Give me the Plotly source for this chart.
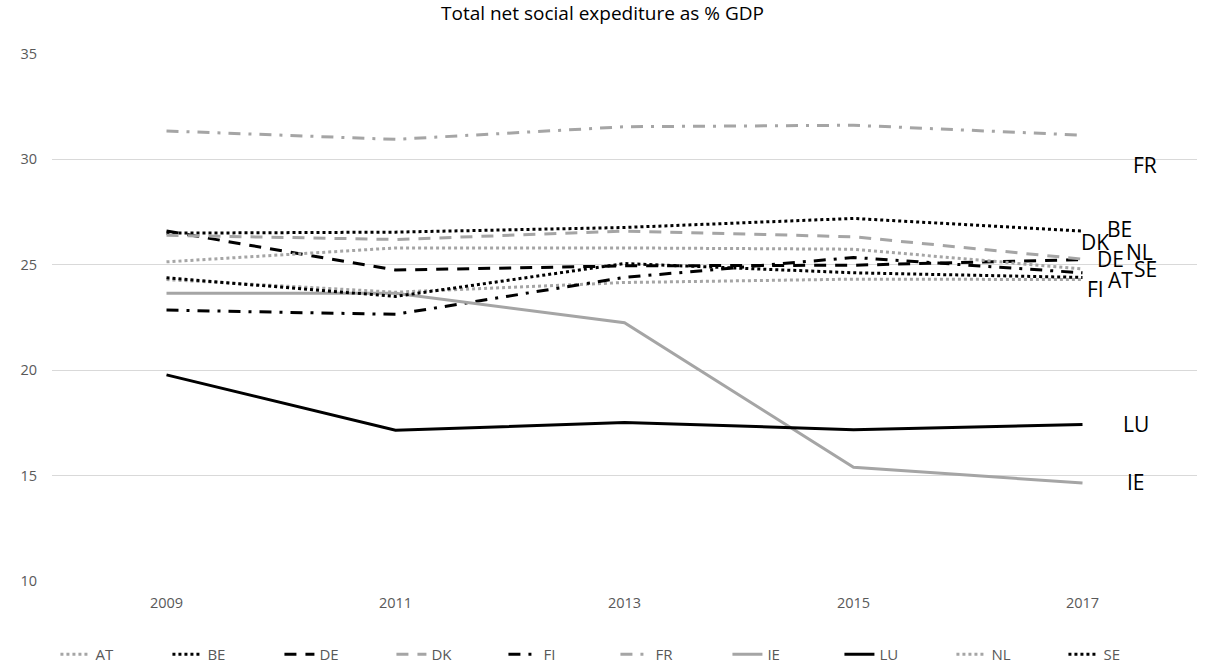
import plotly.graph_objects as go

# Net social expenditure, % of GDP
years = ["2009", "2011", "2013", "2015", "2017"]
AT = [24.3, 23.7, 24.16, 24.32, 24.3]
BE = [26.5, 26.55, 26.77, 27.2, 26.6]
DE = [26.6, 24.75, 24.95, 24.98, 25.25]
DK = [26.4, 26.2, 26.6, 26.33, 25.27]
FI = [22.85, 22.65, 24.4, 25.35, 24.62]
FR = [31.35, 30.95, 31.55, 31.62, 31.15]
IE = [23.65, 23.65, 22.25, 15.4, 14.65]
LU = [19.78, 17.15, 17.52, 17.18, 17.42]
NL = [25.14, 25.8, 25.8, 25.74, 24.8]
SE = [24.38, 23.5, 25.06, 24.62, 24.4]

GREY = "#a5a5a5"
BLACK = "#000000"
DOT = "3px,3px"
DASH = "12px,9px"
DASHDOT = "12px,8px,3px,8px"

# name, values, colour, dash pattern, end-label offset (x, y in px)
series = [
    ("AT", AT, GREY, DOT, (38, 0)),
    ("BE", BE, BLACK, DOT, (37, 2)),
    ("DE", DE, BLACK, DASH, (28, 1)),
    ("DK", DK, GREY, DASH, (12, 17)),
    ("FI", FI, BLACK, DASHDOT, (13, -16)),
    ("FR", FR, GREY, DASHDOT, (62, -30)),
    ("IE", IE, GREY, "solid", (53, 1)),
    ("LU", LU, BLACK, "solid", (53, 1)),
    ("NL", NL, GREY, DOT, (57, 17)),
    ("SE", SE, BLACK, DOT, (63, 8)),
]

last = len(years) - 1  # category index of the final year

fig = go.Figure()
annotations = []
for name, vals, color, dash, (dx, dy) in series:
    fig.add_trace(go.Scatter(
        x=years, y=vals, name=name, mode="lines",
        line=dict(color=color, width=3, dash=dash),
    ))
    annotations.append(dict(
        x=last, y=vals[-1], xref="x", yref="y", text=name,
        showarrow=False, xanchor="center", yanchor="middle",
        xshift=dx, yshift=dy,
        font=dict(family="Open Sans", size=21, color="#000000"),
    ))

fig.update_layout(
    width=1205, height=666,
    margin=dict(l=52, r=8, t=54, b=85, autoexpand=False),
    paper_bgcolor="white", plot_bgcolor="white",
    title=dict(text="Total net social expediture as % GDP", x=0.5, xanchor="center",
               y=0.98, yanchor="middle",
               font=dict(family="Open Sans", size=19, color="#000000")),
    font=dict(family="Open Sans", size=14, color="#595959"),
    annotations=annotations,
    legend=dict(orientation="h", x=0.003, xanchor="left", y=-0.108, yanchor="top",
                entrywidth=67, entrywidthmode="pixels",
                font=dict(family="Open Sans", size=15, color="#595959")),
    showlegend=True,
)
fig.update_xaxes(type="category", range=[-0.5, 4.5], showgrid=False, showline=False,
                 ticks="", ticklabelstandoff=11,
                 tickfont=dict(family="Open Sans", size=14.5, color="#595959"))
fig.update_yaxes(range=[10, 35], dtick=5, showgrid=True, gridcolor="#d9d9d9",
                 gridwidth=1, zeroline=False, showline=False, ticks="",
                 ticklabelstandoff=14,
                 tickfont=dict(family="Open Sans", size=14.5, color="#595959"))

fig.write_html("out.html")
